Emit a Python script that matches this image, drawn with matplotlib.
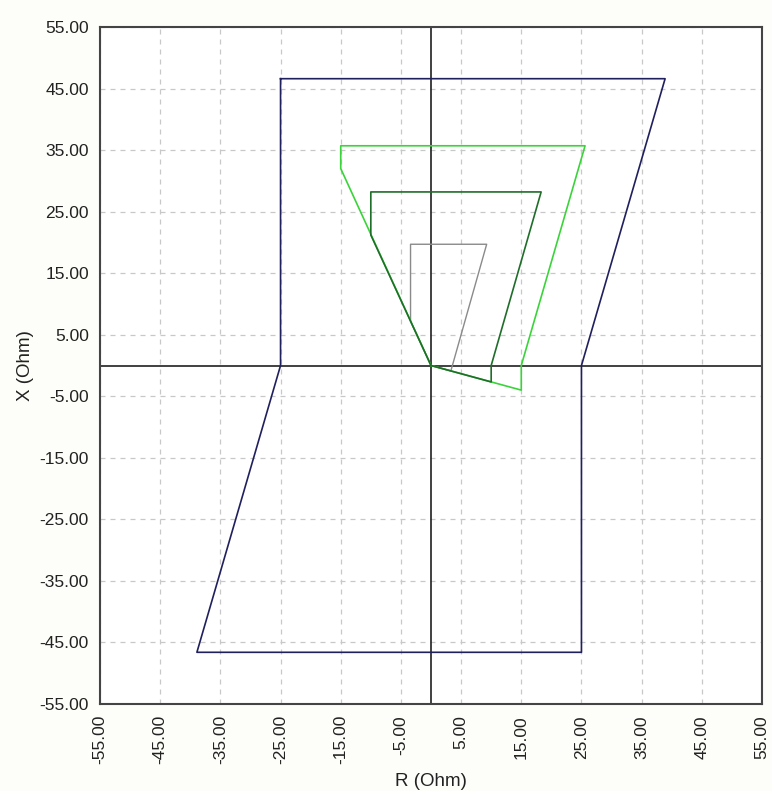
import numpy as np
import matplotlib.pyplot as plt

plt.rcParams['font.family'] = ['Liberation Sans', 'DejaVu Sans']

ticks = np.arange(-55, 56, 10)

# zone polygons (R, X) in Ohm
blue_r = [-25, 38.9, 25, 25, -38.9, -25, -25]
blue_x = [46.6, 46.6, 0, -46.6, -46.6, 0, 46.6]

lime_r = [0, 15, 15, 25.6, -15, -15, 0]
lime_x = [0, -4.0, 0, 35.7, 35.7, 32.0, 0]

dgreen_r = [0, 10, 10, 18.3, -10, -10, 0]
dgreen_x = [0, -2.67, 0, 28.2, 28.2, 21.2, 0]

gray_r = [0, 3.3, 9.25, -3.4, -3.4, 0]
gray_x = [0, -0.88, 19.7, 19.7, 7.2, 0]


def main():
    fig = plt.figure(figsize=(7.72, 7.91), dpi=100)
    fig.patch.set_facecolor('#fdfdf9')
    ax = fig.add_axes([100/772, 1 - 704/791, 662/772, 677/791])
    ax.set_facecolor('white')

    ax.plot(gray_r, gray_x, color='#8a8a8a', lw=1.0, zorder=3)
    ax.plot(lime_r, lime_x, color='#3ad43a', lw=1.2, zorder=4)
    ax.plot(dgreen_r, dgreen_x, color='#1f6e2a', lw=1.2, zorder=5)
    ax.plot(blue_r, blue_x, color='#20205e', lw=1.2, zorder=6)

    ax.axhline(0, color='#202020', lw=1.2, zorder=2)
    ax.axvline(0, color='#202020', lw=1.2, zorder=2)

    ax.set_xlim(-55, 55)
    ax.set_ylim(-55, 55)
    ax.set_xticks(ticks)
    ax.set_yticks(ticks)
    ax.set_xticklabels(['%.2f' % t for t in ticks], rotation=90)
    ax.set_yticklabels(['%.2f' % t for t in ticks])
    ax.tick_params(length=0, labelsize=12.5, colors='#222222', pad=8)
    ax.grid(True, ls=(0, (4, 4)), color='#c8c8c8', lw=0.9)
    for s in ax.spines.values():
        s.set_color('#444444')
        s.set_linewidth(1.5)

    ax.set_xlabel('R (Ohm)', fontsize=13.5, color='#222222', labelpad=6)
    ax.set_ylabel('X (Ohm)', fontsize=13.5, color='#222222', labelpad=4)

    fig.savefig('out.png', dpi=100, facecolor=fig.get_facecolor())


main()
